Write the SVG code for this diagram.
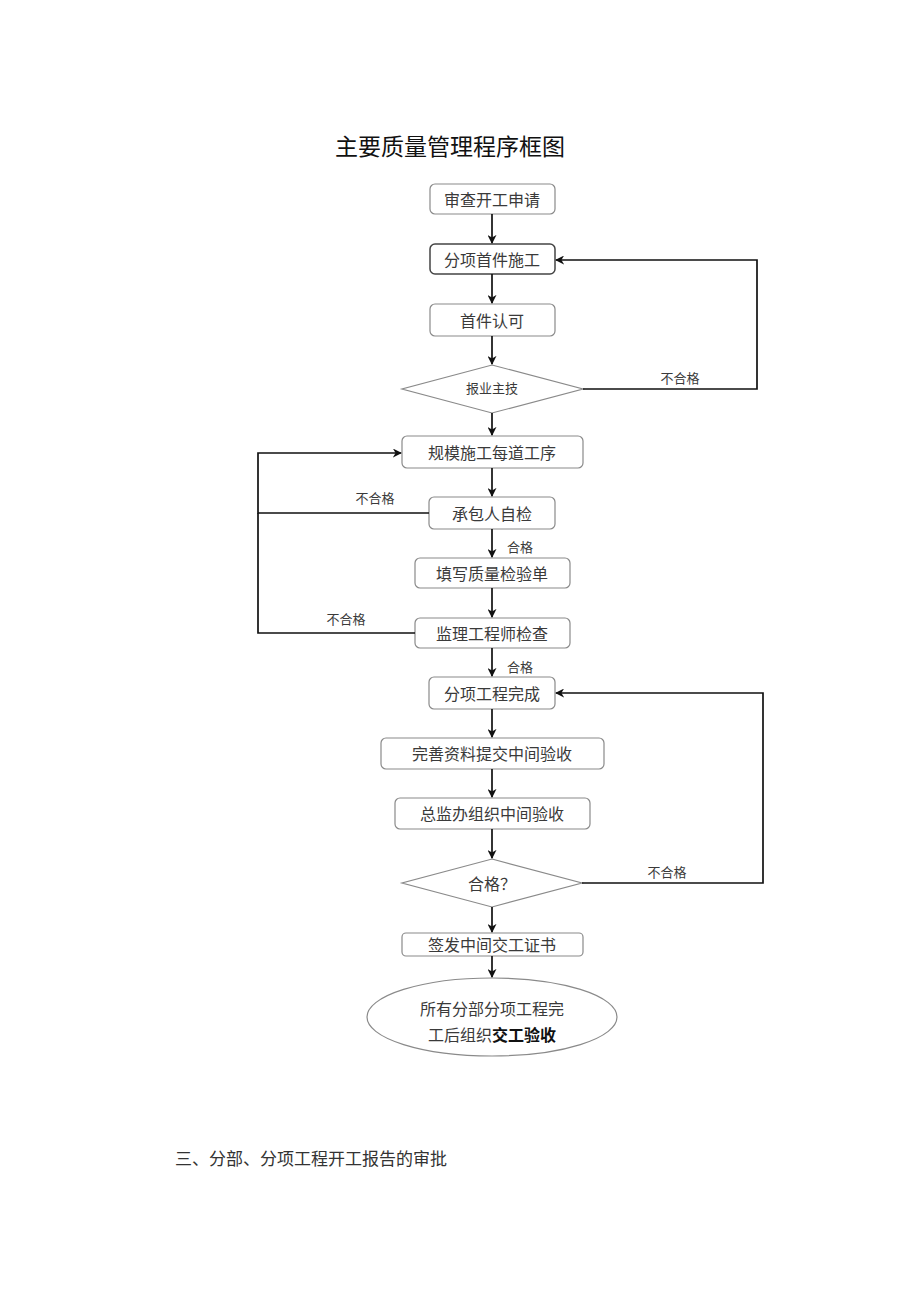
<svg xmlns="http://www.w3.org/2000/svg" width="920" height="1301" viewBox="0 0 920 1301">
<defs>
<marker id="ah" viewBox="0 0 10 10" refX="9" refY="5" markerWidth="9" markerHeight="9" orient="auto-start-reverse" markerUnits="userSpaceOnUse">
<path d="M0,0 L10,5 L0,10 L3,5 Z" fill="#111"/>
</marker>
<style>
.box{fill:#fff;stroke:#8a8a8a;stroke-width:1.2}
.dark{stroke:#444;stroke-width:1.5}
.t{font-family:"Noto Sans CJK SC","Noto Sans CJK JP",sans-serif;font-size:16px;fill:#3a3a3a;text-anchor:middle;dominant-baseline:central}
.lbl{font-family:"Noto Sans CJK SC",sans-serif;font-size:13px;fill:#3a3a3a;text-anchor:middle;dominant-baseline:central}
.c{fill:none;stroke:#111;stroke-width:1.7}
</style>
</defs>
<rect width="920" height="1301" fill="#fff"/>
<text x="450" y="145" font-family="'Noto Sans CJK SC',sans-serif" font-size="23" fill="#111" text-anchor="middle" dominant-baseline="central">主要质量管理程序框图</text>

<g id="n1"><rect class="box" x="430" y="184" width="125" height="30" rx="5"/><text class="t" x="492" y="199">审查开工申请</text></g>
<g id="n2"><rect class="box dark" x="430" y="244" width="125" height="30" rx="5"/><text class="t" x="492" y="259">分项首件施工</text></g>
<g id="n3"><rect class="box" x="430" y="304" width="125" height="32" rx="5"/><text class="t" x="492" y="320">首件认可</text></g>
<g id="n4"><polygon class="box" points="492,365 583,389 492,413 402,389"/><text class="lbl" x="492" y="387">报业主技</text></g>
<g id="n5"><rect class="box" x="402" y="436" width="181" height="32" rx="5"/><text class="t" x="492" y="452">规模施工每道工序</text></g>
<g id="n6"><rect class="box" x="429" y="497" width="126" height="32" rx="5"/><text class="t" x="492" y="513">承包人自检</text></g>
<g id="n7"><rect class="box" x="415" y="558" width="155" height="30" rx="5"/><text class="t" x="492" y="573">填写质量检验单</text></g>
<g id="n8"><rect class="box" x="415" y="618" width="155" height="30" rx="5"/><text class="t" x="492" y="633">监理工程师检查</text></g>
<g id="n9"><rect class="box" x="429" y="677" width="126" height="32" rx="5"/><text class="t" x="492" y="693">分项工程完成</text></g>
<g id="n10"><rect class="box" x="381" y="738" width="223" height="31" rx="5"/><text class="t" x="492" y="753">完善资料提交中间验收</text></g>
<g id="n11"><rect class="box" x="395" y="798" width="195" height="31" rx="5"/><text class="t" x="492" y="813">总监办组织中间验收</text></g>
<g id="n12"><polygon class="box" points="492,859 582,883 492,907 402,883"/><text class="t" x="492" y="883">合格？</text></g>
<g id="n13"><rect class="box" x="402" y="933" width="181" height="23" rx="4"/><text class="t" x="492" y="944">签发中间交工证书</text></g>
<g id="n14"><ellipse class="box" cx="492" cy="1017" rx="125" ry="39"/><text class="t" x="492" y="1008">所有分部分项工程完</text><text class="t" x="492" y="1034">工后组织<tspan font-weight="bold" fill="#111">交工验收</tspan></text></g>

<g id="connectors">
<line class="c" x1="492" y1="214" x2="492" y2="243" marker-end="url(#ah)"/>
<line class="c" x1="492" y1="274" x2="492" y2="303" marker-end="url(#ah)"/>
<line class="c" x1="492" y1="336" x2="492" y2="364" marker-end="url(#ah)"/>
<polyline class="c" points="583,389 757,389 757,260 556,260" marker-end="url(#ah)"/>
<line class="c" x1="492" y1="413" x2="492" y2="435" marker-end="url(#ah)"/>
<line class="c" x1="492" y1="468" x2="492" y2="496" marker-end="url(#ah)"/>
<polyline class="c" points="429,513 258,513 258,453 401,453" marker-end="url(#ah)"/>
<line class="c" x1="492" y1="529" x2="492" y2="557" marker-end="url(#ah)"/>
<line class="c" x1="492" y1="588" x2="492" y2="617" marker-end="url(#ah)"/>
<polyline class="c" points="415,633 258,633 258,513"/>
<line class="c" x1="492" y1="648" x2="492" y2="676" marker-end="url(#ah)"/>
<line class="c" x1="492" y1="709" x2="492" y2="737" marker-end="url(#ah)"/>
<line class="c" x1="492" y1="769" x2="492" y2="797" marker-end="url(#ah)"/>
<line class="c" x1="492" y1="829" x2="492" y2="858" marker-end="url(#ah)"/>
<polyline class="c" points="582,883 763,883 763,693 556,693" marker-end="url(#ah)"/>
<line class="c" x1="492" y1="907" x2="492" y2="932" marker-end="url(#ah)"/>
<line class="c" x1="492" y1="956" x2="492" y2="977" marker-end="url(#ah)"/>
<text class="lbl" x="680" y="377">不合格</text>
<text class="lbl" x="375" y="497">不合格</text>
<text class="lbl" x="520" y="546">合格</text>
<text class="lbl" x="346" y="618">不合格</text>
<text class="lbl" x="520" y="666">合格</text>
<text class="lbl" x="667" y="871">不合格</text>
</g>

<text x="175" y="1157" font-family="'Noto Sans CJK SC',sans-serif" font-size="17" fill="#333" dominant-baseline="central">三、分部、分项工程开工报告的审批</text>
</svg>
